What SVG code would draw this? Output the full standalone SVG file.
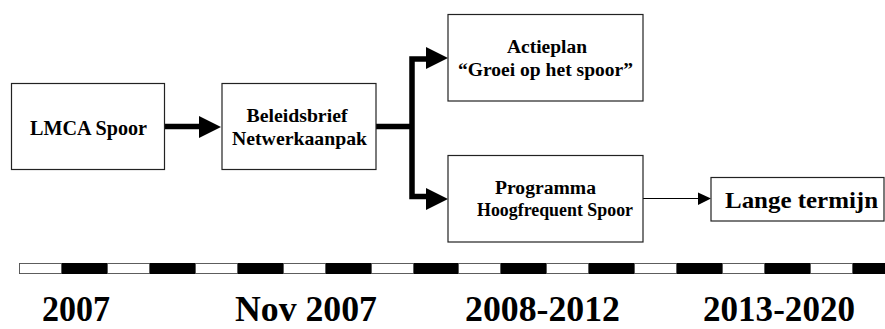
<svg xmlns="http://www.w3.org/2000/svg" width="885" height="329" viewBox="0 0 885 329">
<style>
.box{fill:#fff;stroke:#222;stroke-width:1.2}
.t{font-family:"Liberation Serif","Times New Roman",serif;font-weight:bold;fill:#000;text-anchor:middle}
.thick{fill:none;stroke:#000;stroke-width:5.5}
.thin{fill:none;stroke:#000;stroke-width:1.2}
.yr{font-family:"Liberation Serif","Times New Roman",serif;font-weight:bold;font-size:35px;fill:#000}
</style>
<rect width="885" height="329" fill="#fff"/>
<g id="connectors">
<line class="thick" x1="165" y1="126.5" x2="200" y2="126.5"/>
<polygon points="199,116 221,127 199,138" fill="#000"/>
<polyline class="thick" points="376,126.5 412,126.5"/>
<polyline class="thick" points="427,59 412,59 412,196.5 427,196.5"/>
<polygon points="426,47 448,58 426,69" fill="#000"/>
<polygon points="426,188 448,199 426,210" fill="#000"/>
<line class="thin" x1="643" y1="198.5" x2="699" y2="198.5"/>
<polygon points="698,192.5 711,198.5 698,205" fill="#000"/>
</g>
<g id="n1"><rect class="box" x="11.5" y="83.5" width="153" height="86"/><text class="t" x="88.5" y="135" font-size="20" textLength="117" lengthAdjust="spacingAndGlyphs">LMCA Spoor</text></g>
<g id="n2"><rect class="box" x="222" y="83.5" width="154" height="86"/><text class="t" x="297" y="122" font-size="19" textLength="101" lengthAdjust="spacingAndGlyphs">Beleidsbrief</text><text class="t" x="299.5" y="145" font-size="19" textLength="135" lengthAdjust="spacingAndGlyphs">Netwerkaanpak</text></g>
<g id="n3"><rect class="box" x="448" y="14.5" width="195" height="86.5"/><text class="t" x="547" y="53" font-size="18" textLength="80" lengthAdjust="spacingAndGlyphs">Actieplan</text><text class="t" x="545.5" y="76" font-size="18" textLength="175" lengthAdjust="spacingAndGlyphs">“Groei op het spoor”</text></g>
<g id="n4"><rect class="box" x="448" y="155.5" width="195" height="86.5"/><text class="t" x="545.5" y="194" font-size="18" textLength="101" lengthAdjust="spacingAndGlyphs">Programma</text><text class="t" x="555" y="216" font-size="18" textLength="156" lengthAdjust="spacingAndGlyphs">Hoogfrequent Spoor</text></g>
<g id="n5"><rect class="box" x="711" y="177.5" width="173" height="43.5"/><text class="t" x="801.5" y="208" font-size="24" textLength="153" lengthAdjust="spacingAndGlyphs">Lange termijn</text></g>
<g id="timeline">
<rect x="19" y="263" width="866" height="11" fill="#000"/>
<g fill="#fff" stroke="#555" stroke-width="0.8">
<rect x="19.5" y="263.5" width="42" height="10"/>
<rect x="107.5" y="263.5" width="42" height="10"/>
<rect x="195.5" y="263.5" width="42" height="10"/>
<rect x="283.5" y="263.5" width="42" height="10"/>
<rect x="371.5" y="263.5" width="42" height="10"/>
<rect x="458.5" y="263.5" width="42" height="10"/>
<rect x="546.5" y="263.5" width="42" height="10"/>
<rect x="634.5" y="263.5" width="42" height="10"/>
<rect x="722.5" y="263.5" width="42" height="10"/>
<rect x="810.5" y="263.5" width="42" height="10"/>
</g>
</g>
<g id="years">
<text class="yr" x="42" y="321" textLength="68" lengthAdjust="spacingAndGlyphs">2007</text>
<text class="yr" x="235" y="321" textLength="142" lengthAdjust="spacingAndGlyphs">Nov 2007</text>
<text class="yr" x="465" y="321" textLength="155" lengthAdjust="spacingAndGlyphs">2008-2012</text>
<text class="yr" x="703" y="321" textLength="152" lengthAdjust="spacingAndGlyphs">2013-2020</text>
</g>
</svg>
